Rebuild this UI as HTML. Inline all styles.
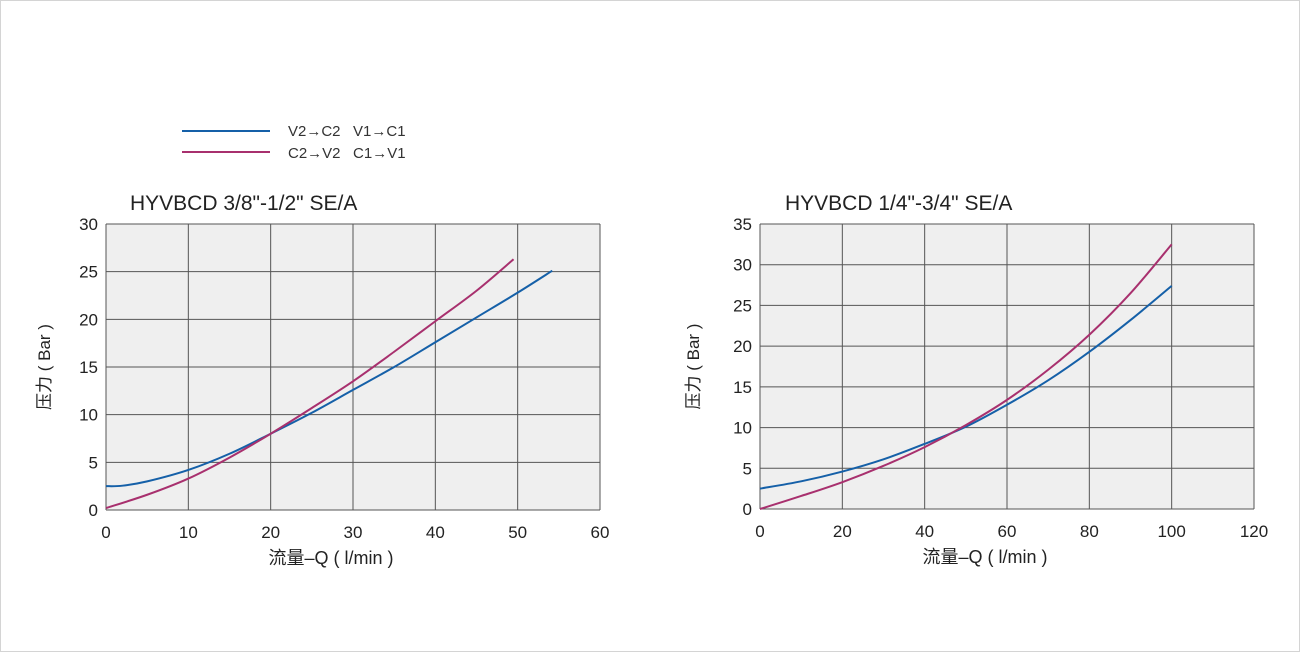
<!DOCTYPE html>
<html><head><meta charset="utf-8"><style>
body{margin:0;background:#fff;}
svg{display:block;font-family:"Liberation Sans","Noto Sans CJK SC",sans-serif;}
</style></head><body>
<svg id="svg" width="1300" height="652" viewBox="0 0 1300 652">
<rect x="0.5" y="0.5" width="1299" height="651" fill="#fff" stroke="#d4d4d4"/>
<g>
<line x1="182" y1="131" x2="270" y2="131" stroke="#1560a8" stroke-width="2"/>
<text x="288" y="136" font-size="15" fill="#333" xml:space="preserve">V2→C2   V1→C1</text>
<line x1="182" y1="152" x2="270" y2="152" stroke="#a8306e" stroke-width="2"/>
<text x="288" y="158" font-size="15" fill="#333" xml:space="preserve">C2→V2   C1→V1</text>
</g>
<g id="c1"></g>
<g id="c2"></g>
</svg>
<script>
const leftXTicks=[0,10,20,30,40,50,60];
const leftYTicks=[0,5,10,15,20,25,30];
const leftBlueX=[0,2,5,10,15,20,25,30,35,40,45,50,54.2];
const leftBlueY=[2.5,2.55,3.0,4.2,5.9,8,10.2,12.6,15,17.6,20.2,22.8,25.1];
const leftMagX=[0,5,10,15,20,25,30,35,40,45,49.5];
const leftMagY=[0.2,1.6,3.3,5.5,8,10.7,13.5,16.6,19.8,23,26.3];
const rightXTicks=[0,20,40,60,80,100,120];
const rightYTicks=[0,5,10,15,20,25,30,35];
const rightBlueX=[0,10,20,30,40,50,60,70,80,90,100];
const rightBlueY=[2.5,3.4,4.6,6.1,8,10.1,12.8,15.8,19.3,23.2,27.4];
const rightMagX=[0,10,20,30,40,50,60,70,80,90,100];
const rightMagY=[0,1.6,3.3,5.3,7.6,10.3,13.4,17.1,21.4,26.5,32.5];
const NS="http://www.w3.org/2000/svg";
function mk(parent,tag,attrs){const e=document.createElementNS(NS,tag);for(const k in attrs)e.setAttribute(k,attrs[k]);parent.appendChild(e);return e;}
function path(xs,ys,sx,sy){
  const p=xs.map((x,i)=>[sx(x),sy(ys[i])]);
  let d="M"+p[0][0]+","+p[0][1];
  for(let i=0;i<p.length-1;i++){
    const p0=p[i-1]||p[i],p1=p[i],p2=p[i+1],p3=p[i+2]||p2;
    const c1=[p1[0]+(p2[0]-p0[0])/6,p1[1]+(p2[1]-p0[1])/6];
    const c2=[p2[0]-(p3[0]-p1[0])/6,p2[1]-(p3[1]-p1[1])/6];
    d+=" C"+c1+" "+c2+" "+p2;
  }
  return d;
}
function chart(g,cfg){
  const L=cfg.L,R=cfg.R,T=cfg.T,B=cfg.B;
  const xmax=cfg.xt[cfg.xt.length-1],ymax=cfg.yt[cfg.yt.length-1];
  const sx=v=>L+(R-L)*v/xmax, sy=v=>B-(B-T)*v/ymax;
  const bg=mk(g,'rect',{x:L,y:T,width:R-L,height:B-T,fill:'#efefef'});
  
  
  cfg.xt.forEach(v=>{
    const l=mk(g,'line',{x1:sx(v),x2:sx(v),y1:T,y2:B,stroke:'#555','stroke-width':1});
    
    
    const t=mk(g,'text',{x:sx(v),y:B+28,'font-size':17,fill:'#222','text-anchor':'middle'});t.textContent=v;
    
    
  });
  cfg.yt.forEach(v=>{
    const l=mk(g,'line',{x1:L,x2:R,y1:sy(v),y2:sy(v),stroke:'#555','stroke-width':1});
    
    
    const t=mk(g,'text',{x:L-8,y:sy(v)+6,'font-size':17,fill:'#222','text-anchor':'end'});t.textContent=v;
    
    
  });
  const s1=mk(g,'path',{d:path(cfg.bx,cfg.by,sx,sy),fill:'none',stroke:'#1560a8','stroke-width':2});
  
  
  const s2=mk(g,'path',{d:path(cfg.mx,cfg.my,sx,sy),fill:'none',stroke:'#a8306e','stroke-width':2});
  
  
  const ti=mk(g,'text',{x:cfg.tx,y:T-14,'font-size':21,fill:'#222'});ti.textContent=cfg.title;
  
  
  const xa=mk(g,'text',{x:(L+R)/2-22,y:B+54,'font-size':18,fill:'#222','text-anchor':'middle'});xa.textContent="流量–Q ( l/min )";
  
  
  const cy=(T+B)/2;
  const ya=mk(g,'text',{x:cfg.yax,y:cy,'font-size':17,fill:'#222','text-anchor':'middle',transform:'rotate(-90 '+cfg.yax+' '+cy+')'});ya.textContent="压力 ( Bar )";
  
  
}
chart(document.getElementById('c1'),{L:106,R:600,T:224,B:510,xt:leftXTicks,yt:leftYTicks,bx:leftBlueX,by:leftBlueY,mx:leftMagX,my:leftMagY,title:'HYVBCD 3/8"-1/2" SE/A',tx:130,yax:50});
chart(document.getElementById('c2'),{L:760,R:1254,T:224,B:509,xt:rightXTicks,yt:rightYTicks,bx:rightBlueX,by:rightBlueY,mx:rightMagX,my:rightMagY,title:'HYVBCD 1/4"-3/4" SE/A',tx:785,yax:699});
</script>
</body></html>
